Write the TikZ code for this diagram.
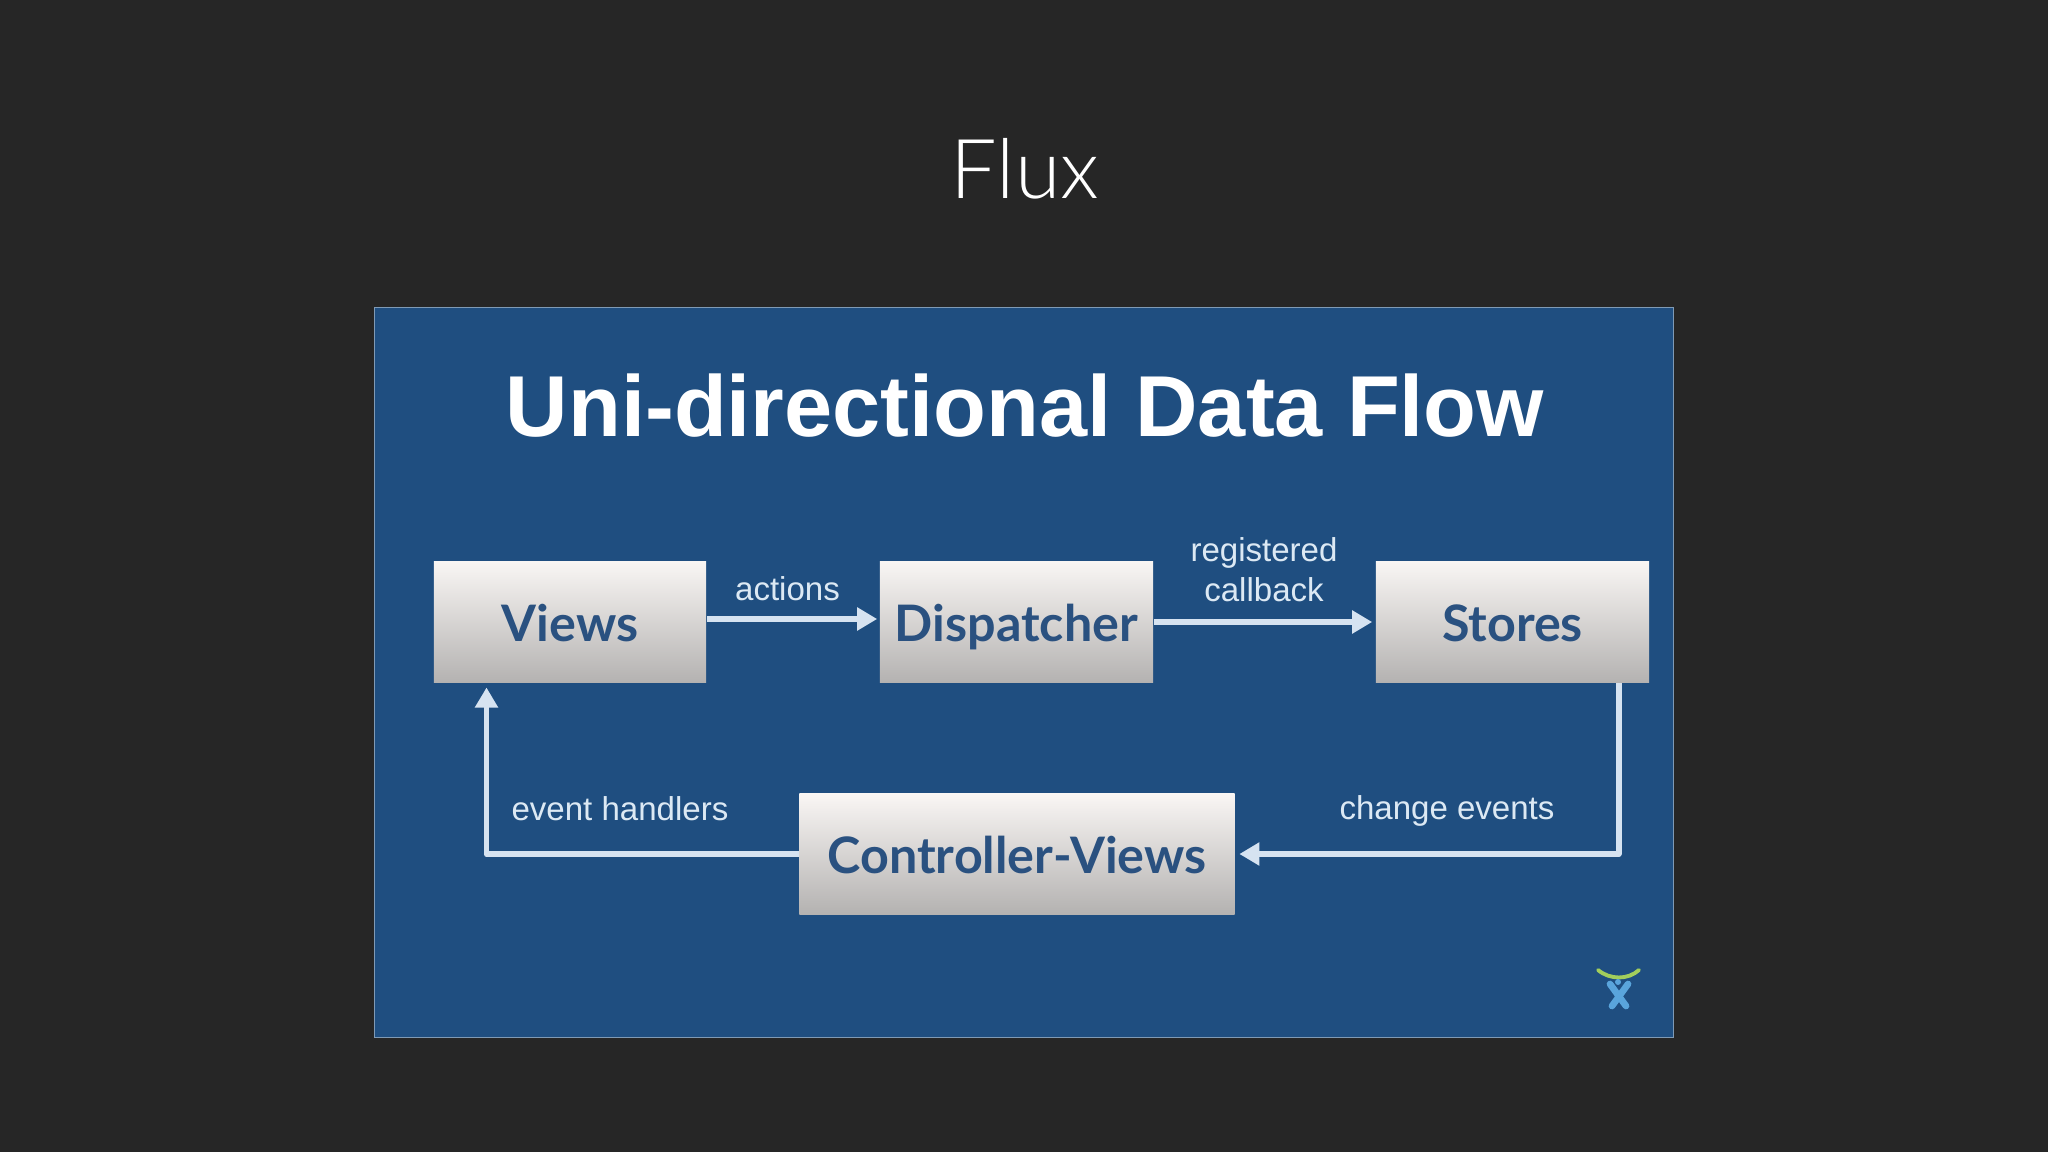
\documentclass[tikz,border=0pt]{standalone}
\usepackage{fontspec}
\setmainfont{Liberation Sans}
\newfontfamily\titlefont{Lato Light}
\newfontfamily\boxfont{Lato}
\usetikzlibrary{arrows.meta,shadows,calc}
\definecolor{slidebg}{HTML}{262626}
\definecolor{panelblue}{HTML}{1F4E80}
\definecolor{paneledge}{HTML}{7F9AB5}
\definecolor{boxtop}{HTML}{F9F6F4}
\definecolor{boxbot}{HTML}{B4B2B1}
\definecolor{boxtext}{HTML}{2A5180}
\definecolor{flowline}{HTML}{D6E3F1}
\definecolor{labeltext}{HTML}{DCE9F4}
\definecolor{logoblue}{HTML}{5AA5DC}
\definecolor{logogreen}{HTML}{A2CE5C}
\tikzset{
  x=0.01cm,y=-0.01cm,
  flowbox/.style={rectangle,anchor=center,inner sep=0pt,top color=boxtop,bottom color=boxbot,
    text=boxtext,text height=11pt,text depth=0pt,font=\boxfont\bfseries\fontsize{14.3pt}{16pt}\selectfont},
  flowlabel/.style={text=labeltext,font=\fontsize{9.4pt}{11.4pt}\selectfont,align=center,inner sep=0pt},
  flow/.style={draw=flowline,line width=1.7pt,line join=round,
    -{Triangle[length=2mm,width=2.2mm,fill=flowline]}}
}
\begin{document}
\begin{tikzpicture}
\useasboundingbox (0,0) rectangle (2048,1152);
\fill[slidebg] (0,0) rectangle (2048,1152);
\node[text=white,font=\titlefont\fontsize{23.5pt}{28pt}\selectfont,inner sep=0pt] (flux) at (1025,169) {Flux};
\node[draw=paneledge,line width=0.4pt,fill=panelblue,minimum width=12.98cm,minimum height=7.30cm,inner sep=0pt] (panel) at (1024,672.5) {};
\node[text=white,font=\bfseries\fontsize{24.6pt}{28pt}\selectfont,inner sep=0pt] (heading) at (1025,406) {Uni-directional Data Flow};
\node[flowbox,minimum width=2.72cm,minimum height=1.215cm] (views) at (570,622) {Views};
\node[flowbox,minimum width=2.73cm,minimum height=1.215cm] (disp) at (1016.5,622) {Dispatcher};
\node[flowbox,minimum width=2.73cm,minimum height=1.215cm] (stores) at (1512.5,622) {Stores};
\node[flowbox,minimum width=4.35cm,minimum height=1.20cm] (ctrl) at (1017,854) {Controller-Views};
\coordinate (corner1) at (1618.5,854);
\coordinate (corner2) at (486.5,854);
\draw[flow,shorten >=0.02cm] ([yshift=0.03cm]views.east) -- ([yshift=0.03cm]disp.west);
\draw[flow,shorten >=0.03cm] (disp.east) -- (stores.west);
\draw[flow,shorten >=0.04cm] (corner1 |- stores.south) -- (corner1) -- (ctrl.east);
\draw[flow,shorten >=0.04cm] (ctrl.west) -- (corner2) -- (corner2 |- views.south);
\node[flowlabel] (lactions) at (787.5,589) {actions};
\node[flowlabel] (lcallback) at (1264,569.5) {registered\\callback};
\node[flowlabel] (lhandlers) at (620,808.5) {event handlers};
\node[flowlabel] (lchange) at (1447,811) {change events};
% logo
\draw[logogreen,line width=1.1pt,line cap=round] (1598,970) .. controls (1610,980) and (1628,980) .. (1639,970);
\draw[logoblue,line width=1.9pt,line cap=round] (1610,984) -- (1626,1006);
\draw[logoblue,line width=1.9pt,line cap=round] (1628,984) -- (1612,1006);
\fill[logoblue] (1618,982) circle (3);
\end{tikzpicture}
\end{document}
